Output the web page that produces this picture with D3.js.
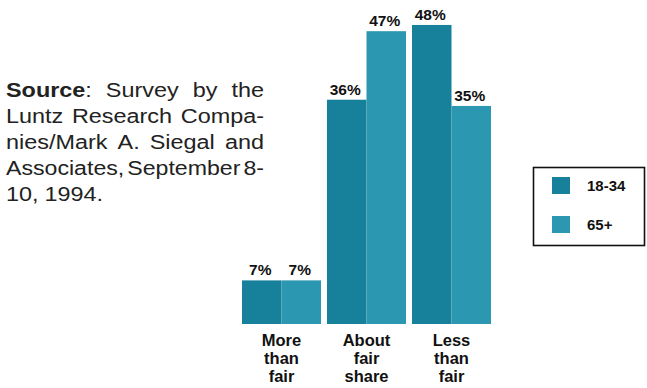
<!DOCTYPE html>
<html>
<head>
<meta charset="utf-8">
<script src="https://cdn.jsdelivr.net/npm/d3@7"></script>
<style>
  html, body { margin: 0; padding: 0; background: #fff; }
  svg { display: block; font-family: "Liberation Sans", Arial, Helvetica, sans-serif; }
</style>
</head>
<body>
<svg id="chart" width="647" height="388"></svg>
<script>
// Categories, series and values
const categories = ["More than fair", "About fair share", "Less than fair"];
const categoryLines = [["More", "than", "fair"], ["About", "fair", "share"], ["Less", "than", "fair"]];
const seriesNames = ["18-34", "65+"];
const values1834 = [7, 36, 48];
const values65 = [7, 47, 35];
const seriesColors = ["#17809a", "#2b97b0"];
const sourceLines = [
  ["Source:", "Survey", "by", "the"],
  ["Luntz", "Research", "Compa-"],
  ["nies/Mark", "A.", "Siegal", "and"],
  ["Associates,", "September", "8-"],
  ["10,", "1994."]
];

const svg = d3.select("#chart");

const data = categories.map((c, i) => ({ cat: c, vals: [values1834[i], values65[i]] }));

const x0 = d3.scaleBand().domain(categories).range([239, 494])
  .paddingInner(6 / 85).paddingOuter(3 / 85);
const x1 = d3.scaleBand().domain(seriesNames).range([0, x0.bandwidth()]);
const y = d3.scaleLinear().domain([0, 50]).range([324, 12.5]);
const color = d3.scaleOrdinal().domain(seriesNames).range(seriesColors);

// Bars
const groups = svg.append("g").selectAll("g").data(data).join("g")
  .attr("transform", d => `translate(${x0(d.cat)},0)`);

groups.selectAll("rect").data(d => d.vals.map((v, j) => ({ s: seriesNames[j], v })))
  .join("rect")
  .attr("x", d => x1(d.s))
  .attr("y", d => y(d.v))
  .attr("width", x1.bandwidth())
  .attr("height", d => y(0) - y(d.v))
  .attr("fill", d => color(d.s));

// Value labels
groups.selectAll("text.val").data(d => d.vals.map((v, j) => ({ s: seriesNames[j], v })))
  .join("text")
  .attr("class", "val")
  .attr("x", d => x1(d.s) + x1.bandwidth() / 2 - 1.5)
  .attr("y", d => y(d.v) - 5)
  .attr("text-anchor", "middle")
  .attr("font-size", 15.5)
  .attr("font-weight", "bold")
  .attr("fill", "#111")
  .text(d => d.v + "%");

// Category labels under each group
const xAxis = svg.append("g");
categories.forEach((c, i) => {
  const cx = x0(c) + x0.bandwidth() / 2;
  const t = xAxis.append("text")
    .attr("text-anchor", "middle")
    .attr("font-size", 16.5)
    .attr("font-weight", "bold")
    .attr("fill", "#111");
  categoryLines[i].forEach((ln, k) => {
    t.append("tspan").attr("x", cx).attr("y", 346 + k * 18).text(ln);
  });
});

// Source note: words laid out one by one (slightly wide glyphs), full lines justified
const note = svg.append("g").attr("font-size", 20).attr("fill", "#222");
const noteLeft = 6, noteRight = 264;
const stretch = 1.17;
sourceLines.forEach((words, k) => {
  const yy = 97 + k * 26;
  const nodes = words.map((w, j) => {
    const t = note.append("text").attr("y", yy);
    if (k === 0 && j === 0) {
      t.append("tspan").attr("font-weight", "bold").text("Source");
      t.append("tspan").text(":");
    } else {
      t.text(w);
    }
    return t;
  });
  const widths = nodes.map(n => n.node().getComputedTextLength() * stretch);
  const total = d3.sum(widths);
  const last = k === sourceLines.length - 1;
  let gap = last ? 6 : (noteRight - noteLeft - total) / (words.length - 1);
  let scale = 1;
  if (!last && gap < 3) {
    gap = 3;
    scale = (noteRight - noteLeft - gap * (words.length - 1)) / total;
  }
  let xx = noteLeft;
  nodes.forEach((n, j) => {
    const w = widths[j] * scale;
    n.attr("x", xx).attr("textLength", w).attr("lengthAdjust", "spacingAndGlyphs");
    xx += w + gap;
  });
});

// Legend
const legend = svg.append("g");
legend.append("rect")
  .attr("x", 533.5).attr("y", 167.5).attr("width", 111).attr("height", 78)
  .attr("fill", "#fff").attr("stroke", "#111").attr("stroke-width", 1.6);
seriesNames.forEach((s, i) => {
  const yy = 177 + i * 39;
  legend.append("rect").attr("x", 552).attr("y", yy).attr("width", 18).attr("height", 17)
    .attr("fill", color(s));
  legend.append("text").attr("x", 587).attr("y", yy + 14)
    .attr("font-size", 15).attr("font-weight", "bold").attr("fill", "#111")
    .text(s);
});
</script>
</body>
</html>
